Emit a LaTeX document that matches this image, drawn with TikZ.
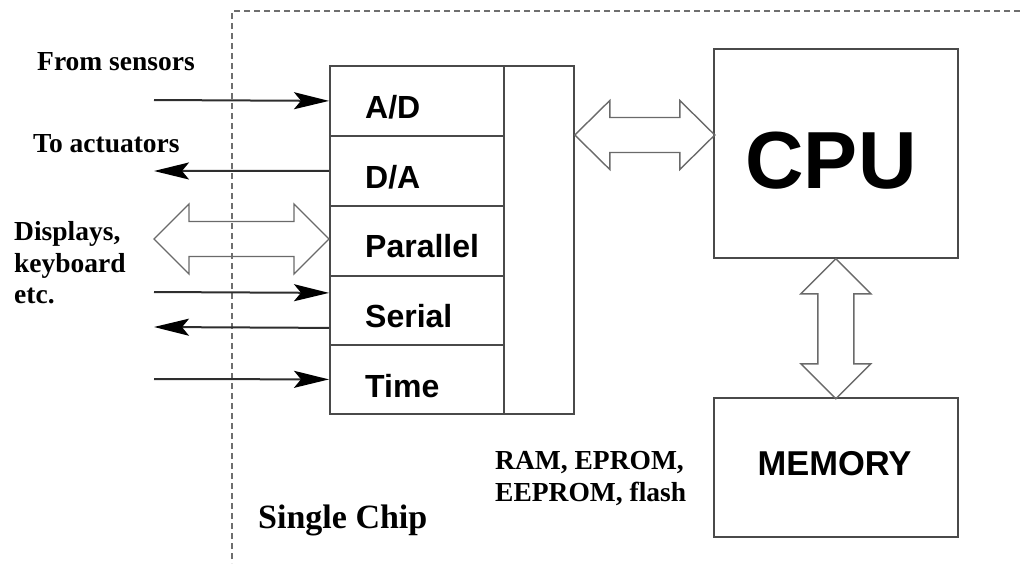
\documentclass[tikz,border=0pt]{standalone}
\usepackage{fontspec}
\setmainfont{Liberation Serif}
\newfontfamily\hvfont{Liberation Sans}
\usetikzlibrary{arrows.meta,calc}
\definecolor{boxgray}{HTML}{4A4A4A}
\definecolor{linegray}{HTML}{2E2E2E}
\definecolor{hollowgray}{HTML}{6A6A6A}
\definecolor{dashgray}{HTML}{6E6E6E}
\begin{document}
\begin{tikzpicture}[x=1pt,y=-1pt,
  rowbox/.style={draw=boxgray, line width=1.8pt, minimum width=174pt, minimum height=70pt, inner sep=0pt, anchor=north west},
  bigbox/.style={draw=boxgray, line width=1.8pt, inner sep=0pt, anchor=north west},
  rowtxt/.style={anchor=base west, inner sep=0pt, font=\hvfont\bfseries\fontsize{32}{32}\selectfont},
  lbl/.style={anchor=base west, inner sep=0pt, font=\bfseries\fontsize{27.5}{32}\selectfont},
  sigarrow/.style={draw=linegray, line width=2pt, -{Stealth[length=35pt,width=17pt,inset=7pt,black]}},
  hollow/.style={draw=hollowgray, line width=1.4pt, line join=miter},
  dashline/.style={draw=dashgray, line width=1.4pt, dash pattern=on 6pt off 4pt}]
\useasboundingbox (0,0) rectangle (1020,563);
% dashed chip outline
\coordinate (dc) at (232,11);
\coordinate (dr) at (1020,11);
\coordinate (db) at (232,563);
\draw[dashline] (dr) -- (dc) -- (db);
% interface rows
\node[rowbox] (ad)  at (329,65) {};
\node[rowbox] (da)  at (329,135) {};
\node[rowbox] (par) at (329,205) {};
\node[rowbox, minimum height=69pt] (ser) at (329,275) {};
\node[rowbox, minimum height=69pt] (tim) at (329,344) {};
\node[bigbox, minimum width=70pt, minimum height=348pt] (col) at (503,65) {};
\node[rowtxt] (adt)  at (365,118) {A/D};
\node[rowtxt] (dat)  at (365,188) {D/A};
\node[rowtxt] (part) at (365,257) {Parallel};
\node[rowtxt] (sert) at (365,327) {Serial};
\node[rowtxt] (timt) at (365,397) {Time};
% CPU and memory
\node[bigbox, minimum width=244pt, minimum height=209pt] (cpu) at (713,48) {};
\node[anchor=base, inner sep=0pt, font=\hvfont\bfseries\fontsize{81}{81}\selectfont] (cput) at (831,188) {CPU};
\node[bigbox, minimum width=244pt, minimum height=139pt] (mem) at (713,397) {};
\node[anchor=base, inner sep=0pt, font=\hvfont\bfseries\fontsize{34.5}{34.5}\selectfont] (memt) at (834.5,475.5) {MEMORY};
% signal arrows
\coordinate (in1) at (154,100);
\coordinate (out1) at (154,171);
\coordinate (sin) at (154,292);
\coordinate (sout) at (154,327);
\coordinate (tin) at (154,379);
\draw[sigarrow] (in1) -- (ad.west);
\draw[sigarrow] (da.west) -- (out1);
\draw[sigarrow] (sin) -- ($(ser.west)+(0,-17.5)$);
\draw[sigarrow] ($(ser.west)+(0,17.5)$) -- (sout);
\draw[sigarrow] (tin) -- (tim.west);
% hollow double arrows
\coordinate (pl) at (154,239);
\draw[hollow] (pl) -- ++(35,-35) -- ++(0,17.5) -- ++(105,0) -- ++(0,-17.5) -- ++(35,35)
  -- ++(-35,35) -- ++(0,-17.5) -- ++(-105,0) -- ++(0,17.5) -- cycle;
\coordinate (cl) at ($(col.north east)+(0,70)$);
\draw[hollow] (cl) -- ++(35,-34.5) -- ++(0,17) -- ++(70,0) -- ++(0,-17) -- ++(35,34.5)
  -- ++(-35,34.5) -- ++(0,-17) -- ++(-70,0) -- ++(0,17) -- cycle;
\draw[hollow] (cpu.south) -- ++(35,35) -- ++(-17,0) -- ++(0,70) -- ++(17,0) -- ++(-35,35)
  -- ++(-35,-35) -- ++(17,0) -- ++(0,-70) -- ++(-17,0) -- cycle;
% labels
\node[lbl] (fs) at (37,70) {From sensors};
\node[lbl] (ta) at (33,152) {To actuators};
\node[lbl] (d1) at (14,240) {Displays,};
\node[lbl] (d2) at (14,272) {keyboard};
\node[lbl] (d3) at (14,303) {etc.};
\node[lbl] (r1) at (495,469) {RAM, EPROM,};
\node[lbl] (r2) at (495,501) {EEPROM, flash};
\node[anchor=base west, inner sep=0pt, font=\bfseries\fontsize{34}{34}\selectfont] (sc) at (258,528) {Single Chip};
\end{tikzpicture}
\end{document}
